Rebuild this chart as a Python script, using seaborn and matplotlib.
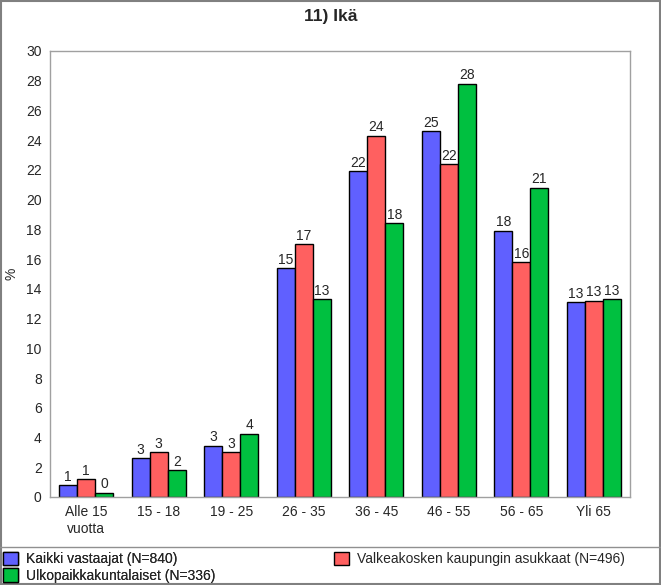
import pandas as pd
import matplotlib.pyplot as plt
import seaborn as sns
from matplotlib.lines import Line2D
from matplotlib.patches import Rectangle

categories = ["Alle 15\nvuotta", "15 - 18", "19 - 25", "26 - 35", "36 - 45", "46 - 55", "56 - 65", "Yli 65"]
groups = ["Kaikki vastaajat (N=840)", "Valkeakosken kaupungin asukkaat (N=496)", "Ulkopaikkakuntalaiset (N=336)"]
kaikki = [0.8, 2.6, 3.45, 15.4, 21.9, 24.6, 17.9, 13.1]
valkeakoski = [1.2, 3.0, 3.0, 17.0, 24.3, 22.4, 15.8, 13.2]
ulko = [0.3, 1.8, 4.25, 13.3, 18.4, 27.8, 20.8, 13.3]
colors = ["#6060FF", "#FF6060", "#00C040"]

def build_frame():
    rows = []
    for name, vals in zip(groups, [kaikki, valkeakoski, ulko]):
        for cat, v in zip(categories, vals):
            rows.append({"Ikä": cat, "Ryhmä": name, "Osuus": v})
    return pd.DataFrame(rows)

def main():
    df = build_frame()
    sns.set_style("white")
    plt.rcParams["font.family"] = ["Liberation Sans", "DejaVu Sans"]

    fig = plt.figure(figsize=(6.61, 5.85), dpi=100)
    ax = fig.add_axes([50 / 661, 88 / 585, 580 / 661, 446 / 585])
    sns.barplot(data=df, x="Ikä", y="Osuus", hue="Ryhmä", order=categories,
                hue_order=groups, palette=colors, width=0.745, gap=0,
                edgecolor="black", linewidth=1, saturation=1, ax=ax)

    for cont in ax.containers:
        ax.bar_label(cont, labels=[f"{v:.0f}" for v in cont.datavalues],
                     padding=1, fontsize=10)

    ax.set_ylim(0, 30)
    ax.set_yticks(range(0, 31, 2))
    ax.set_xlim(-0.5, len(categories) - 0.5)
    ax.tick_params(axis="both", length=0, labelsize=10, pad=6)
    ax.set_xlabel("")
    ax.set_ylabel("%", fontsize=10)
    ax.yaxis.set_label_coords(-31 / 580, 0.5)
    for s in ax.spines.values():
        s.set_color("#a0a0a0")
        s.set_linewidth(1)

    handles, labels = ax.get_legend_handles_labels()
    ax.get_legend().remove()
    leg1 = fig.legend([handles[0], handles[2]], [labels[0], labels[2]],
                      loc="upper left", bbox_to_anchor=(0 / 661, 1 - 549 / 585),
                      frameon=False, fontsize=10, handlelength=1.1, handleheight=1.1,
                      handletextpad=0.6, labelspacing=0.15, borderaxespad=0, borderpad=0.2)
    fig.add_artist(leg1)
    fig.legend([handles[1]], [labels[1]], loc="upper left",
               bbox_to_anchor=(331 / 661, 1 - 549 / 585),
               frameon=False, fontsize=10, handlelength=1.1, handleheight=1.1,
               handletextpad=0.6, borderaxespad=0, borderpad=0.2)

    fig.suptitle("11) Ikä", fontsize=12.5, fontweight="bold", y=1 - 9 / 585, va="top")

    # separator above legend and figure border
    fig.add_artist(Line2D([0, 1], [1 - 547 / 585] * 2, color="#909090", lw=1,
                          transform=fig.transFigure))
    fig.add_artist(Rectangle((0.001, 0.001), 0.997, 0.997, fill=False,
                             edgecolor="#808080", lw=1.5, transform=fig.transFigure))

    fig.savefig("out.png", dpi=100)

if __name__ == "__main__":
    main()
